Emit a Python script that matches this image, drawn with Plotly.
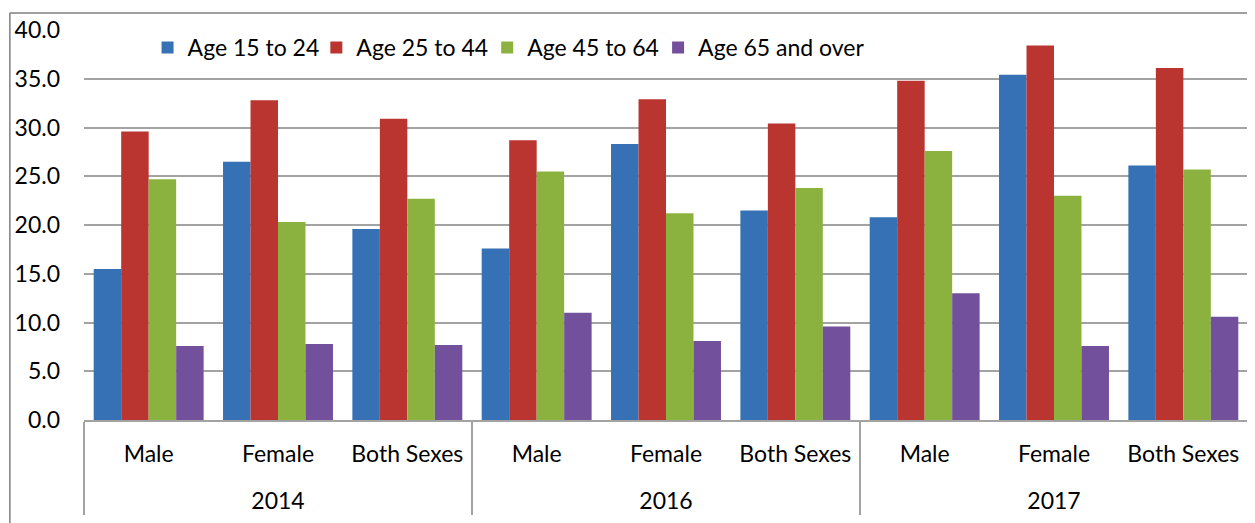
import plotly.graph_objects as go

years = ["2014"] * 3 + ["2016"] * 3 + ["2017"] * 3
sexes = ["Male", "Female", "Both Sexes"] * 3

age_15_24 = [15.5, 26.5, 19.6, 17.6, 28.3, 21.5, 20.8, 35.4, 26.1]
age_25_44 = [29.6, 32.8, 30.9, 28.7, 32.9, 30.4, 34.8, 38.4, 36.1]
age_45_64 = [24.7, 20.3, 22.7, 25.5, 21.2, 23.8, 27.6, 23.0, 25.7]
age_65_over = [7.6, 7.8, 7.7, 11.0, 8.1, 9.6, 13.0, 7.6, 10.6]

series = [
    ("Age 15 to 24", age_15_24, "#3670B5"),
    ("Age 25 to 44", age_25_44, "#BB3530"),
    ("Age 45 to 64", age_45_64, "#8BB23F"),
    ("Age 65 and over", age_65_over, "#72509B"),
]

# year row sits a full line below the sex labels, like the original
year_labels = ["<br>" + y for y in years]

# one legend box per series so the entries can be spaced like the original
legend_x = [0.0546, 0.1996, 0.3464, 0.4932]
legend_ids = ["legend", "legend2", "legend3", "legend4"]

fig = go.Figure()
for (name, vals, color), lid in zip(series, legend_ids):
    fig.add_trace(go.Bar(x=[year_labels, sexes], y=vals, name=name, legend=lid,
                         marker=dict(color=color, line=dict(width=0))))

fig.update_layout(
    width=1247, height=515,
    margin=dict(l=75, r=7, t=18, b=103),
    paper_bgcolor="white", plot_bgcolor="white",
    barmode="group", bargap=0.15, bargroupgap=0,
    font=dict(family="Lato, sans-serif", size=23, color="#000000"),
    showlegend=True,
)
for lid, lx in zip(legend_ids, legend_x):
    fig.update_layout({lid: dict(orientation="h", x=lx, y=0.955, xanchor="left",
                                 yanchor="middle", font=dict(size=23),
                                 bgcolor="rgba(0,0,0,0)", itemwidth=30)})

fig.update_yaxes(range=[0, 40], dtick=5, tickformat=".1f", showgrid=True,
                 gridcolor="#A3A3A3", gridwidth=1.5, zeroline=False,
                 showline=False, ticks="", ticklabelstandoff=23)
fig.update_xaxes(showline=True, linecolor="#A3A3A3", linewidth=1.5,
                 showdividers=True, dividercolor="#A3A3A3", dividerwidth=1.5,
                 ticks="", tickfont=dict(size=23), ticklabelstandoff=13)

# outer chart border (top and left edges)
fig.add_shape(type="line", xref="paper", yref="paper",
              x0=-0.0637, x1=1.006, y0=1.0438, y1=1.0438,
              line=dict(color="#7F7F7F", width=1.5))
fig.add_shape(type="line", xref="paper", yref="paper",
              x0=-0.0637, x1=-0.0637, y0=1.0438, y1=-0.27,
              line=dict(color="#7F7F7F", width=1.5))

fig.write_html("out.html")
